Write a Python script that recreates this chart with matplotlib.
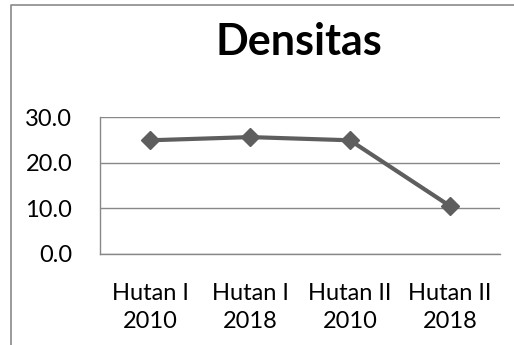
import matplotlib
matplotlib.use("Agg")
import matplotlib.pyplot as plt
from matplotlib.lines import Line2D

categories = ["Hutan I\n2010", "Hutan I\n2018", "Hutan II\n2010", "Hutan II\n2018"]
values = [24.9, 25.6, 24.9, 10.5]
y_ticks = [0, 10, 20, 30]
y_tick_labels = ["0.0", "10.0", "20.0", "30.0"]
title = "Densitas"

W, H = 514, 345
fig = plt.figure(figsize=(W / 100, H / 100), dpi=100)
fig.patch.set_facecolor("white")

ax = fig.add_axes([100 / W, (H - 254) / H, 400 / W, 137 / H])
x = list(range(len(categories)))
ax.plot(x, values, color="#5e5e5e", lw=3, marker="D", markersize=9,
        markerfacecolor="#5e5e5e", markeredgecolor="#5e5e5e", solid_capstyle="butt")
ax.set_xlim(-0.5, len(categories) - 0.5)
ax.set_ylim(0, 30)
ax.set_yticks(y_ticks)
ax.set_yticklabels(y_tick_labels)
ax.set_xticks(x)
ax.set_xticklabels(categories, linespacing=1.4)
for t in ax.get_xticklabels() + ax.get_yticklabels():
    t.set_fontfamily("Lato")
    t.set_fontsize(17)
    t.set_color("black")
ax.tick_params(axis="both", length=0)
ax.tick_params(axis="y", pad=20)
ax.tick_params(axis="x", pad=21)
ax.grid(axis="y", color="#888888", lw=1)
ax.set_axisbelow(True)
for s in ["top", "right"]:
    ax.spines[s].set_visible(False)
for s in ["left", "bottom"]:
    ax.spines[s].set_color("#888888")
    ax.spines[s].set_linewidth(1)

fig.text(299 / W, (H - 55) / H, title, ha="center", va="baseline",
         fontsize=31, fontweight="bold", fontfamily="Lato", color="black")

# outer chart border (partially visible)
fig.add_artist(Line2D([11 / W, 11 / W, 1.0], [0.0, (H - 5) / H, (H - 5) / H],
                      transform=fig.transFigure, color="#8a8a8a", lw=1.2))

fig.savefig("out.png", dpi=100, facecolor="white")
